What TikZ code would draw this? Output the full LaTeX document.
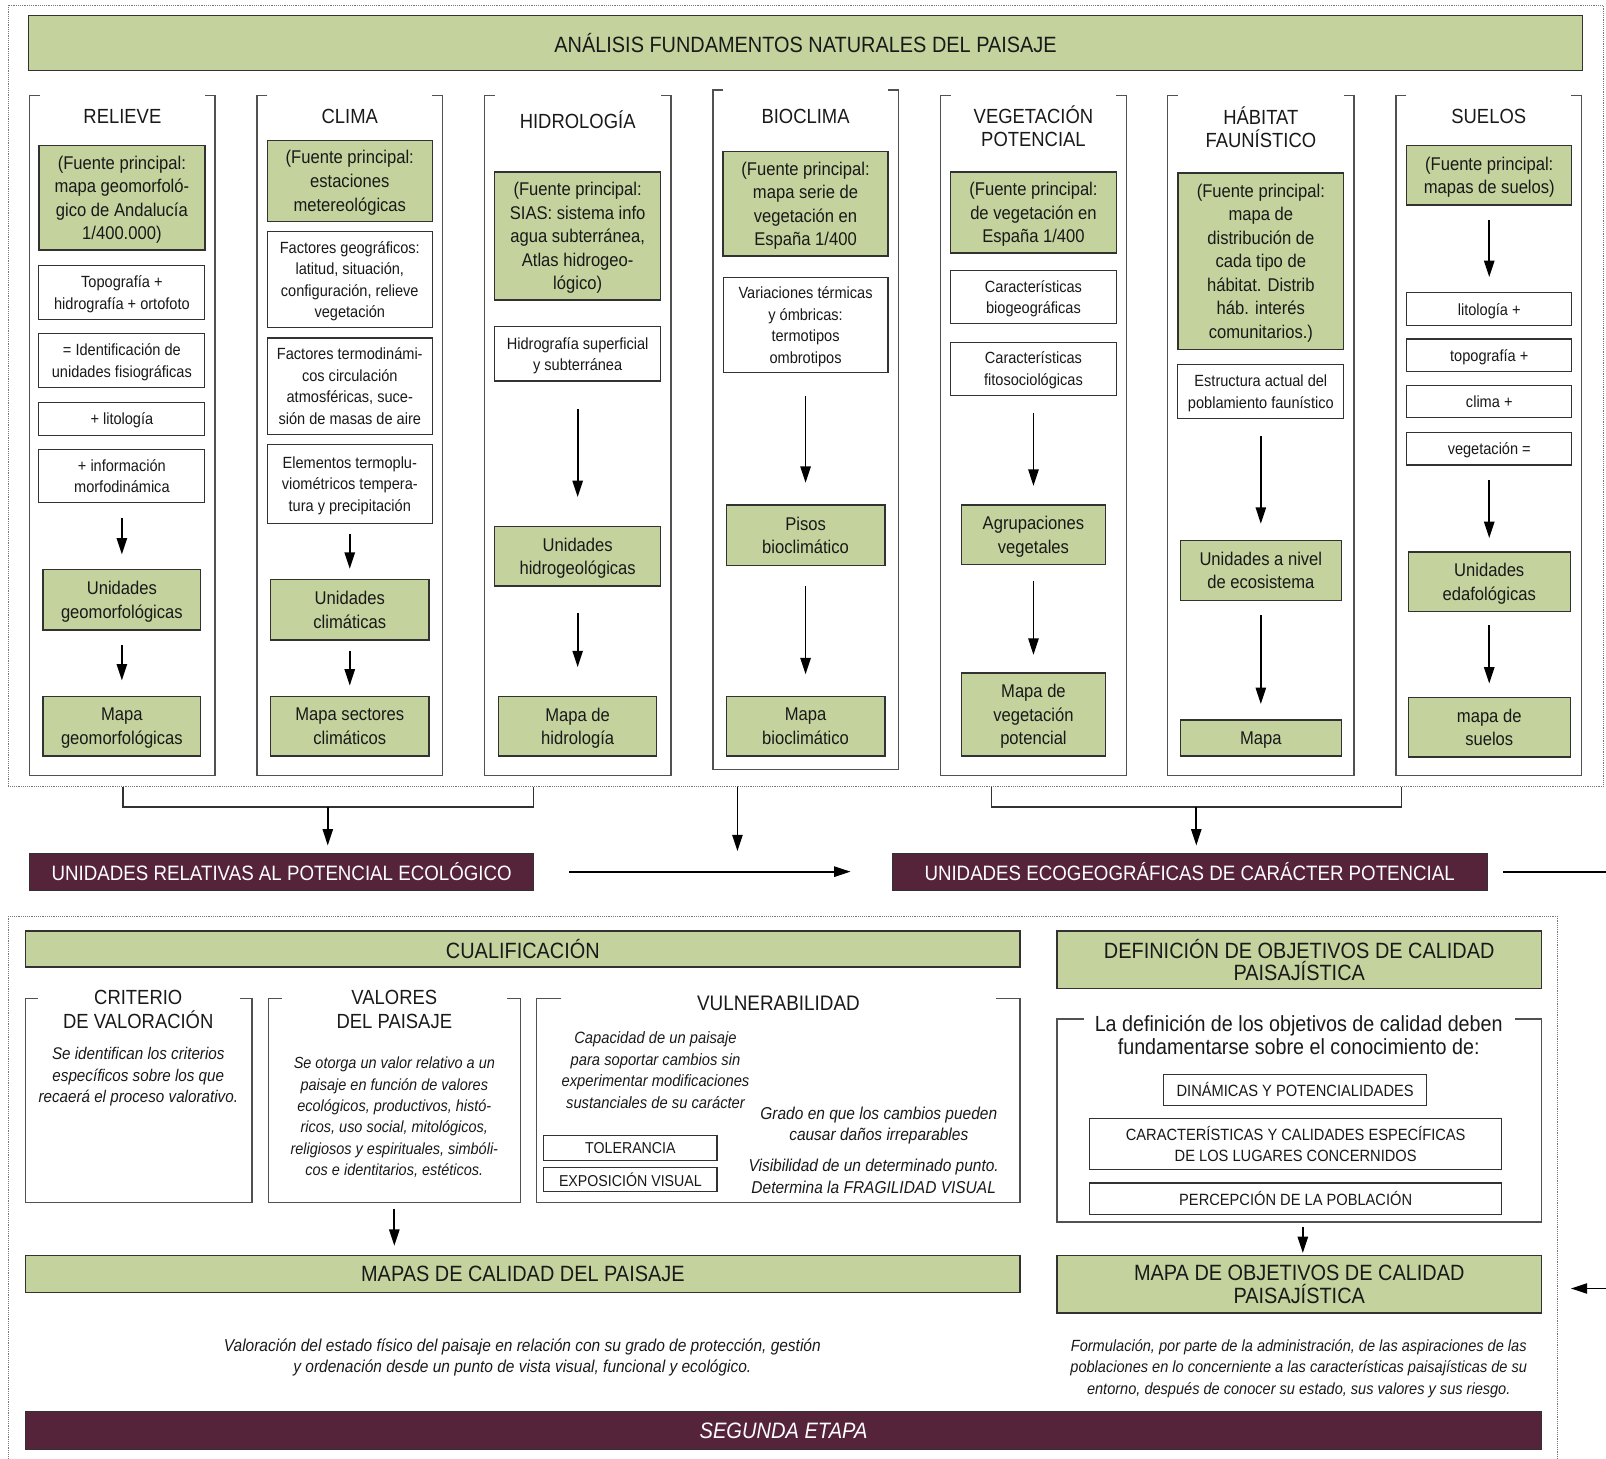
\documentclass[tikz,border=0pt]{standalone}
\usepackage{fontspec}
\setmainfont[FakeStretch=0.9]{Liberation Sans}
\usetikzlibrary{arrows.meta}
\definecolor{grn}{RGB}{196,210,157}
\definecolor{mar}{RGB}{85,35,58}
\definecolor{bord}{RGB}{50,50,50}
\definecolor{txt}{RGB}{25,25,25}
\definecolor{dotc}{RGB}{120,120,120}
\newcommand\fTop{\fontsize{21.6}{22}\selectfont}
\newcommand\fColT{\fontsize{20}{22}\selectfont}
\newcommand\fGrn{\fontsize{18}{23}\selectfont}
\newcommand\fWht{\fontsize{15.8}{21}\selectfont}
\newcommand\fMar{\fontsize{20.3}{22}\selectfont}
\newcommand\fHd{\fontsize{21.6}{22}\selectfont}
\newcommand\fCap{\fontsize{15.9}{20}\selectfont}
\newcommand\fItA{\fontsize{16.5}{21}\selectfont\itshape}
\newcommand\fItB{\fontsize{15.7}{20.8}\selectfont\itshape}
\newcommand\fItC{\fontsize{16}{21}\selectfont\itshape}
\newcommand\fItD{\fontsize{16.8}{21}\selectfont\itshape}
\newcommand\fItE{\fontsize{15.8}{21}\selectfont\itshape}
\newcommand\brFrame[5]{\draw[frm] ({#1+#5},{#3}) -- (#1,#3) -- (#1,#4) -- (#2,#4) -- (#2,#3) -- ({#2-#5},{#3});}
\begin{document}
\begin{tikzpicture}[x=1pt,y=-1pt,
  gbox/.style={draw=bord, fill=grn, line width=1.3pt, inner sep=0pt, align=center, text=txt, font=\fGrn, text depth=-9pt},
  wbox/.style={draw=bord, fill=white, line width=1.1pt, inner sep=0pt, align=center, text=txt, font=\fWht, text depth=-9pt},
  mbox/.style={draw=bord, fill=mar, line width=1.1pt, inner sep=0pt, align=center, text=white, font=\fMar, text depth=-5pt},
  lbl/.style={inner sep=0pt, align=center, text=txt},
  frm/.style={draw=bord!85, line width=1.3pt},
  dotf/.style={draw=dotc, line width=0.8pt, densely dotted},
  arr/.style={line width=1.8pt, -{Triangle[length=16pt,width=10pt]}},
  conn/.style={draw=bord, line width=1.3pt}]
\useasboundingbox (0,0) rectangle (1568,1424);

% ---------- dotted frames ----------
\draw[dotf] (8,5) rectangle (1565,768);
\draw[dotf] (8,1424) -- (8,895) -- (1521,895) -- (1521,1424);

% ---------- top bar ----------
\node[gbox, font=\fTop, minimum width=1517, minimum height=54] (top) at (786.5,42) {ANÁLISIS FUNDAMENTOS NATURALES DEL PAISAJE};

% ---------- column frames ----------
\brFrame{29}{210}{93}{757}{10}
\brFrame{251}{432}{93}{757}{10}
\brFrame{473}{655}{93}{757}{10}
\brFrame{696}{877}{88}{751}{10}
\brFrame{918}{1100}{93}{757}{10}
\brFrame{1140}{1322}{93}{757}{10}
\brFrame{1363}{1544}{93}{757}{10}

% ---------- column titles ----------
\node[lbl, font=\fColT] (tR) at (119.5,114) {RELIEVE};
\node[lbl, font=\fColT] (tC) at (341.5,114) {CLIMA};
\node[lbl, font=\fColT] (tH) at (564,117) {HIDROLOGÍA};
\node[lbl, font=\fColT] (tB) at (786.5,114) {BIOCLIMA};
\node[lbl, font=\fColT] (tV) at (1009,123) {VEGETACIÓN\\POTENCIAL};
\node[lbl, font=\fColT] (tHb) at (1231,124) {HÁBITAT\\FAUNÍSTICO};
\node[lbl, font=\fColT] (tS) at (1453.5,114) {SUELOS};

% ---------- RELIEVE ----------
\node[gbox, minimum width=162, minimum height=102] (r1) at (119,193) {(Fuente principal:\\mapa geomorfoló-\\gico de Andalucía\\1/400.000)};
\node[wbox, minimum width=162, minimum height=53] (r2) at (119,285.5) {Topografía +\\hidrografía + ortofoto};
\node[wbox, minimum width=162, minimum height=52] (r3) at (119,352) {= Identificación de\\unidades fisiográficas};
\node[wbox, minimum width=162, minimum height=32] (r4) at (119,409) {+ litología};
\node[wbox, minimum width=162, minimum height=52] (r5) at (119,465) {+ información\\morfodinámica};
\node[gbox, minimum width=154, minimum height=59] (r6) at (119,585.5) {Unidades\\geomorfológicas};
\node[gbox, minimum width=154, minimum height=58] (r7) at (119,709) {Mapa\\geomorfológicas};
\draw[arr, shorten <=14pt, shorten >=14pt] (r5) -- (r6);
\draw[arr, shorten <=14pt, shorten >=15pt] (r6) -- (r7);

% ---------- CLIMA ----------
\node[gbox, minimum width=161, minimum height=79] (c1) at (341.5,176.5) {(Fuente principal:\\estaciones\\metereológicas};
\node[wbox, minimum width=161, minimum height=94] (c2) at (341.5,273) {Factores geográficos:\\latitud, situación,\\configuración, relieve\\vegetación};
\node[wbox, minimum width=161, minimum height=94] (c3) at (341.5,377) {Factores termodinámi-\\cos circulación\\atmosféricas, suce-\\sión de masas de aire};
\node[wbox, minimum width=161, minimum height=77] (c4) at (341.5,472.5) {Elementos termoplu-\\viométricos tempera-\\tura y precipitación};
\node[gbox, minimum width=155, minimum height=59] (c5) at (341.5,595.5) {Unidades\\climáticas};
\node[gbox, minimum width=155, minimum height=58] (c6) at (341.5,709) {Mapa sectores\\climáticos};
\draw[arr, shorten <=10pt, shorten >=10pt] (c4) -- (c5);
\draw[arr, shorten <=10pt, shorten >=10pt] (c5) -- (c6);

% ---------- HIDROLOGIA ----------
\node[gbox, minimum width=162, minimum height=125] (h1) at (564,230.5) {(Fuente principal:\\SIAS: sistema info\\agua subterránea,\\Atlas hidrogeo-\\lógico)};
\node[wbox, minimum width=162, minimum height=53] (h2) at (564,345.5) {Hidrografía superficial\\y subterránea};
\node[gbox, minimum width=162, minimum height=58] (h3) at (564,543) {Unidades\\hidrogeológicas};
\node[gbox, minimum width=154, minimum height=58] (h4) at (564,709) {Mapa de\\hidrología};
\draw[arr, shorten <=27pt, shorten >=28pt] (h2) -- (h3);
\draw[arr, shorten <=26pt, shorten >=28pt] (h3) -- (h4);

% ---------- BIOCLIMA ----------
\node[gbox, minimum width=161, minimum height=102] (b1) at (786.5,199) {(Fuente principal:\\mapa serie de\\vegetación en\\España 1/400};
\node[wbox, minimum width=161, minimum height=93] (b2) at (786.5,317.5) {Variaciones térmicas\\y ómbricas:\\termotipos\\ombrotipos};
\node[gbox, minimum width=155, minimum height=59] (b3) at (786.5,522.5) {Pisos\\bioclimático};
\node[gbox, minimum width=155, minimum height=58] (b4) at (786.5,709) {Mapa\\bioclimático};
\draw[arr, shorten <=22pt, shorten >=21pt] (b2) -- (b3);
\draw[arr, shorten <=19pt, shorten >=21pt] (b3) -- (b4);

% ---------- VEGETACION ----------
\node[gbox, minimum width=162, minimum height=79] (v1) at (1009,207.5) {(Fuente principal:\\de vegetación en\\España 1/400};
\node[wbox, minimum width=162, minimum height=52] (v2) at (1009,290) {Características\\biogeográficas};
\node[wbox, minimum width=162, minimum height=52] (v3) at (1009,360) {Características\\fitosociológicas};
\node[gbox, minimum width=141, minimum height=58] (v4) at (1009,522) {Agrupaciones\\vegetales};
\node[gbox, minimum width=141, minimum height=81] (v5) at (1009,697.5) {Mapa de\\vegetación\\potencial};
\draw[arr, shorten <=17pt, shorten >=18pt] (v3) -- (v4);
\draw[arr, shorten <=16pt, shorten >=17pt] (v4) -- (v5);

% ---------- HABITAT ----------
\node[gbox, minimum width=162, minimum height=172] (hb1) at (1231,255) {(Fuente principal:\\mapa de\\distribución de\\cada tipo de\\hábitat. Distrib\\háb. interés\\comunitarios.)};
\node[wbox, minimum width=162, minimum height=53] (hb2) at (1231,382.5) {Estructura actual del\\poblamiento faunístico};
\node[gbox, minimum width=157, minimum height=58] (hb3) at (1231,557) {Unidades a nivel\\de ecosistema};
\node[gbox, minimum width=157, minimum height=35] (hb4) at (1231,720.5) {Mapa};
\draw[arr, shorten <=16pt, shorten >=16pt] (hb2) -- (hb3);
\draw[arr, shorten <=14pt, shorten >=15pt] (hb3) -- (hb4);

% ---------- SUELOS ----------
\node[gbox, minimum width=161, minimum height=58] (s1) at (1454,171) {(Fuente principal:\\mapas de suelos)};
\node[wbox, minimum width=161, minimum height=32] (s2) at (1454,302) {litología +};
\node[wbox, minimum width=161, minimum height=32] (s3) at (1454,347) {topografía +};
\node[wbox, minimum width=161, minimum height=32] (s4) at (1454,392) {clima +};
\node[wbox, minimum width=161, minimum height=32] (s5) at (1454,438) {vegetación =};
\node[gbox, minimum width=158, minimum height=58] (s6) at (1454,568) {Unidades\\edafológicas};
\node[gbox, minimum width=158, minimum height=58] (s7) at (1454,710) {mapa de\\suelos};
\draw[arr, shorten <=14pt, shorten >=15pt] (s1) -- (s2);
\draw[arr, shorten <=14pt, shorten >=13pt] (s5) -- (s6);
\draw[arr, shorten <=13pt, shorten >=13pt] (s6) -- (s7);

% ---------- maroon boxes ----------
\node[mbox, minimum width=492, minimum height=36] (m1) at (275,851) {UNIDADES RELATIVAS AL POTENCIAL ECOLÓGICO};
\node[mbox, minimum width=581, minimum height=36] (m2) at (1161.5,851) {UNIDADES ECOGEOGRÁFICAS DE CARÁCTER POTENCIAL};

\coordinate (jA1) at (120,768);
\coordinate (jA2) at (521,768);
\coordinate (jAm) at (320,788);
\draw[conn] (jA1) |- (jAm) -| (jA2);
\draw[arr, shorten >=7pt] (jAm) -- (jAm |- m1.north);

\coordinate (jB1) at (968,768);
\coordinate (jB2) at (1368,768);
\coordinate (jBm) at (1168,788);
\draw[conn] (jB1) |- (jBm) -| (jB2);
\draw[arr, shorten >=7pt] (jBm) -- (jBm |- m2.north);

\coordinate (jM) at (720,768);
\coordinate (jMe) at (720,831);
\draw[arr] (jM) -- (jMe);

\draw[arr, shorten <=34pt, shorten >=40pt] (m1.east) -- (m2.west);
\coordinate (edgeR) at (1568,851);
\draw[line width=1.8pt, shorten <=15pt] (m2.east) -- (edgeR);

% ---------- lower section ----------
\node[gbox, font=\fHd, minimum width=971, minimum height=35] (q1) at (510.5,926.5) {CUALIFICACIÓN};
\node[gbox, font=\fHd, minimum width=473, minimum height=56] (d1) at (1268.5,937) {DEFINICIÓN DE OBJETIVOS DE CALIDAD\\PAISAJÍSTICA};

\brFrame{25}{246}{975}{1174}{12}
\brFrame{262}{508}{975}{1174}{13}
\brFrame{524}{996}{975}{1174}{24}
\brFrame{1032}{1505}{995}{1193}{26}

\node[lbl, font=\fontsize{20}{23}\selectfont] (crT) at (135,985.5) {CRITERIO\\DE VALORACIÓN};
\node[lbl, font=\fItA] (crX) at (135,1051.5) {Se identifican los criterios\\específicos sobre los que\\recaerá el proceso valorativo.};

\node[lbl, font=\fontsize{20}{23}\selectfont] (vaT) at (385,985.5) {VALORES\\DEL PAISAJE};
\node[lbl, font=\fItB] (vaX) at (385,1091) {Se otorga un valor relativo a un\\paisaje en función de valores\\ecológicos, productivos, histó-\\ricos, uso social, mitológicos,\\religiosos y espirituales, simbóli-\\cos e identitarios, estéticos.};

\node[lbl, font=\fontsize{20.5}{22}\selectfont] (vuT) at (760,979.5) {VULNERABILIDAD};
\node[lbl, font=\fItC] (vuX) at (640,1045) {Capacidad de un paisaje\\para soportar cambios sin\\experimentar modificaciones\\sustanciales de su carácter};
\node[wbox, font=\fontsize{15.4}{18}\selectfont, minimum width=169, minimum height=24, text depth=-3pt] (tol) at (615.5,1121) {TOLERANCIA};
\node[wbox, font=\fontsize{15.4}{18}\selectfont, minimum width=169, minimum height=23, text depth=-3pt] (exv) at (615.5,1151.5) {EXPOSICIÓN VISUAL};
\node[lbl, font=\fItD] (grX) at (858,1099) {Grado en que los cambios pueden\\causar daños irreparables};
\node[lbl, font=\fItD] (viX) at (853,1148.5) {Visibilidad de un determinado punto.\\Determina la FRAGILIDAD VISUAL};

\coordinate (valB) at (385,1174);
\node[gbox, font=\fHd, minimum width=971, minimum height=36, text depth=-4pt] (mc) at (510.5,1244) {MAPAS DE CALIDAD DEL PAISAJE};
\draw[arr, shorten <=6pt, shorten >=9pt] (valB) -- (valB |- mc.north);
\node[lbl, font=\fItD] (mcX) at (510,1325.5) {Valoración del estado físico del paisaje en relación con su grado de protección, gestión\\y ordenación desde un punto de vista visual, funcional y ecológico.};

\node[lbl, font=\fontsize{21.4}{22}\selectfont] (ldT) at (1268,1010.5) {La definición de los objetivos de calidad deben\\fundamentarse sobre el conocimiento de:};
\node[wbox, font=\fCap, minimum width=257, minimum height=30, text depth=-3pt] (k1) at (1264.5,1064) {DINÁMICAS Y POTENCIALIDADES};
\node[wbox, font=\fCap, minimum width=402, minimum height=50, text depth=-3pt] (k2) at (1265,1117) {CARACTERÍSTICAS Y CALIDADES ESPECÍFICAS\\DE LOS LUGARES CONCERNIDOS};
\node[wbox, font=\fCap, minimum width=402, minimum height=31, text depth=-3pt] (k3) at (1265,1170.5) {PERCEPCIÓN DE LA POBLACIÓN};

\coordinate (defB) at (1272,1193);
\node[gbox, font=\fHd, minimum width=473, minimum height=56, text depth=-4pt] (mo) at (1268.5,1254) {MAPA DE OBJETIVOS DE CALIDAD\\PAISAJÍSTICA};
\draw[arr, shorten <=5pt, shorten >=2pt] (defB) -- (defB |- mo.north);
\coordinate (edgeR2) at (1568,1258);
\draw[arr, shorten >=28pt] (edgeR2) -- (mo.east |- edgeR2);
\node[lbl, font=\fItE] (moX) at (1268,1336) {Formulación, por parte de la administración, de las aspiraciones de las\\poblaciones en lo concerniente a las características paisajísticas de su\\entorno, después de conocer su estado, sus valores y sus riesgo.};

\node[mbox, font=\fontsize{21.8}{22}\selectfont\itshape, minimum width=1480, minimum height=37] (se) at (765,1396.5) {SEGUNDA ETAPA};
\end{tikzpicture}
\end{document}
